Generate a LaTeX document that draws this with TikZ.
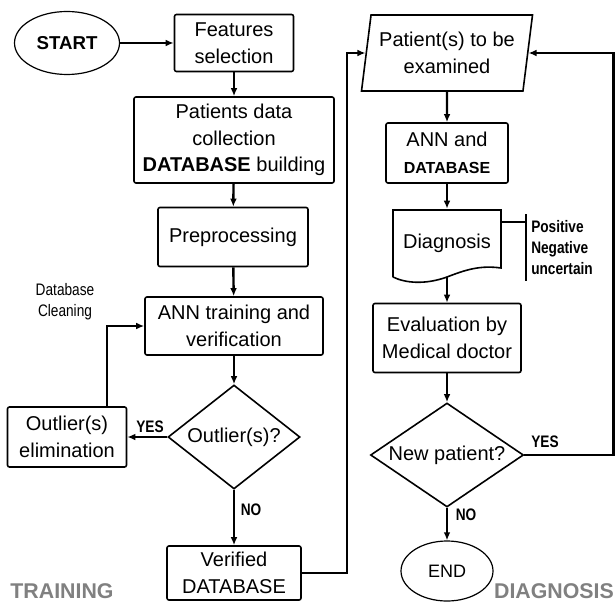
\documentclass[tikz,border=0pt]{standalone}
\usepackage{fontspec}
\setmainfont{Liberation Sans}
\newfontfamily\narrowfont[FakeStretch=0.82]{Liberation Sans}
\usetikzlibrary{shapes.geometric,arrows.meta}
\newcommand{\boxfont}{\fontsize{15}{20}\selectfont}
\newcommand{\notefont}{\narrowfont\fontsize{12.5}{15.75}\selectfont}

\begin{document}
\begin{tikzpicture}[x=0.75pt,y=-0.75pt]
    % Define styles
    \tikzstyle{process} = [rectangle, draw, line width=1.2pt, rounded corners=1.5pt, align=center, inner sep=0pt, font=\boxfont]
    \tikzstyle{terminal} = [ellipse, draw, line width=0.9pt, inner sep=0pt]
    \tikzstyle{decision} = [diamond, draw, line width=1.2pt, inner sep=0pt, font=\boxfont]
    \tikzstyle{inout} = [trapezium, trapezium left angle=77, trapezium right angle=103, trapezium stretches body=true, draw, line width=1.2pt, align=center, inner sep=0pt, font=\boxfont]
    \tikzstyle{note} = [font=\notefont, inner sep=0pt]
    \tikzstyle{phase} = [font=\bfseries\fontsize{16}{16}\selectfont, text=black!50, inner sep=0pt, anchor=base]
    \tikzstyle{arrow} = [line width=1.8pt, ->, >={Latex[length=6pt,width=5pt]}]
    \tikzstyle{line} = [line width=1.5pt]

    \useasboundingbox (0,0) rectangle (616,602);

    % Training side
    \node (start) [terminal, minimum width=78.75pt, minimum height=47.25pt, font=\bfseries\fontsize{14}{14}\selectfont] at (67,43) {START};
    \node (feat) [process, minimum width=89.25pt, minimum height=42.75pt] at (234,43) {Features\\selection};
    \node (patd) [process, minimum width=150pt, minimum height=64.5pt] at (234,140) {Patients data\\collection\\\textbf{DATABASE} building};
    \node (prep) [process, minimum width=112.5pt, minimum height=44.25pt] at (233,237) {Preprocessing};
    \node (anntr) [process, minimum width=133.5pt, minimum height=43.5pt] at (234,326) {ANN training and\\verification};
    \node (outl) [decision, aspect=1.27, minimum width=99pt, minimum height=78pt] at (234,437) {Outlier(s)?};
    \node (elim) [process, minimum width=89.25pt, minimum height=45pt] at (67,437) {Outlier(s)\\elimination};
    \node (ver) [process, minimum width=100.5pt, minimum height=40.5pt] at (234,573) {Verified\\DATABASE};
    \coordinate (clean) at (107,0);

    \node (cleannote) [note, align=center] at (65,302) {Database\\Cleaning};
    \node (yes1) [note, font=\notefont\bfseries] at (150,427) {YES};
    \node (no1) [note, font=\notefont\bfseries] at (251,510) {NO};
    \node (train) [phase] at (62,598) {TRAINING};

    % Diagnosis side
    \node (pat) [inout, minimum width=128.25pt, minimum height=57pt] at (447,53) {Patient(s) to be\\examined};
    \node (anndb) [process, minimum width=91.5pt, minimum height=45pt] at (447,153) {ANN and\\\textbf{\fontsize{12}{20}\selectfont DATABASE}};
    \node (diag) [minimum width=81pt, minimum height=51pt, inner sep=0pt, font=\boxfont] at (447,243) {Diagnosis};
    \draw [line width=1.2pt] (393,277) -- (393,210) -- (501,210) -- (501,268)
        .. controls (480,265) and (465,270) .. (447,277)
        .. controls (425,285) and (405,283) .. (393,277);
    \node (eval) [process, minimum width=111pt, minimum height=51.75pt] at (447,338) {Evaluation by\\Medical doctor};
    \node (newp) [decision, aspect=1.47, minimum width=114.75pt, minimum height=78pt] at (447,455) {New patient?};
    \node (endn) [terminal, minimum width=69pt, minimum height=45pt, font=\fontsize{13.5}{13.5}\selectfont] at (447,571) {END};

    \coordinate (tag) at (526,222);
    \coordinate (tagtop) at (526,214);
    \coordinate (tagbot) at (526,281);
    \node (res) [note, font=\notefont\bfseries, align=left, anchor=west] at (531,248) {Positive\\Negative\\uncertain};
    \node (yes2) [note, font=\notefont\bfseries] at (545,442) {YES};
    \node (no2) [note, font=\notefont\bfseries] at (466,515) {NO};
    \node (diagn) [phase] at (554,598) {DIAGNOSIS};

    % Draw flow
    \draw [arrow] (start) -- (feat);
    \draw [arrow] (feat) -- (patd);
    \draw [arrow] (patd) -- (prep);
    \draw [arrow] (prep) -- (anntr);
    \draw [arrow] (anntr) -- (outl);
    \draw [arrow] (outl) -- (elim);
    \draw [arrow] (elim.north -| clean) |- (anntr.west);
    \draw [arrow] (outl) -- (ver);
    \draw [arrow] (ver.east) -- ++(45,0) |- (pat.west);
    \draw [arrow] (pat) -- (anndb);
    \draw [arrow] (anndb) -- (diag);
    \draw [line] (diag.east |- tag) -- (tag);
    \draw [line] (tagtop) -- (tagbot);
    \draw [arrow] (diag) -- (eval);
    \draw [arrow] (eval) -- (newp);
    \draw [arrow] (newp) -- (endn);
    \draw [arrow] (newp.east) -- ++(89,0) |- (pat.east);
\end{tikzpicture}
\end{document}
